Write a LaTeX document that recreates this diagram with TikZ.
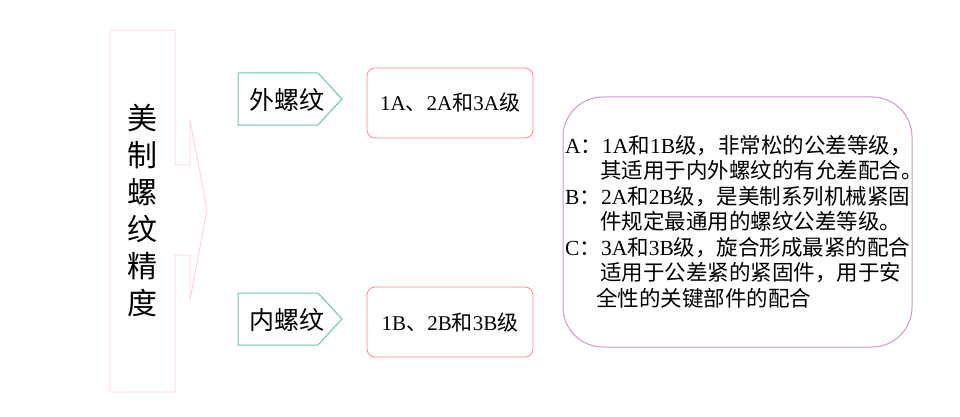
\documentclass[tikz,border=0pt]{standalone}
\usepackage{fontspec}
\setmainfont{Liberation Serif}
\newfontfamily\cjk{Noto Sans CJK SC}
\newcommand{\zh}[1]{{\cjk #1}}
\begin{document}
\begin{tikzpicture}[x=1pt,y=-1pt,
  pinkl/.style={draw=pink!70!red!40, line width=0.8pt},
  tealbox/.style={draw=teal!70!green!60, line width=1pt, fill=white},
  rbox/.style={draw=red!30!pink, line width=0.8pt, rounded corners=8pt},
  bigbox/.style={draw=violet!40, line width=1pt, rounded corners=40pt},
  txt/.style={font=\fontsize{21.5}{21.5}\selectfont, anchor=base west, inner sep=0}]
\useasboundingbox (0,0) rectangle (960,417);
\draw[pinkl] (110,30)--(175,30)--(175,165)--(190,165)--(190,120)--(207,210)--(190,300)--(190,255)--(175,255)--(175,392)--(110,392)--cycle;
\node[align=center, font=\cjk\fontsize{30}{37}\selectfont] (title) at (142,211) {美\\制\\螺\\纹\\精\\度};
\draw[tealbox] (238,73)--(318,73)--(342,99)--(318,125)--(238,125)--cycle;
\node[font=\cjk\fontsize{25}{25}\selectfont] (ext) at (287,100) {外螺纹};
\draw[tealbox] (238,293)--(318,293)--(342,319)--(318,345)--(238,345)--cycle;
\node[font=\cjk\fontsize{25}{25}\selectfont] (int) at (287,320) {内螺纹};
\draw[rbox] (367,68) rectangle (533,138);
\node[font=\fontsize{21}{21}\selectfont] (ga) at (450,103) {1A\zh{、}2A\zh{和}3A\zh{级}};
\draw[rbox] (367,287) rectangle (533,357);
\node[font=\fontsize{21}{21}\selectfont] (gb) at (450,323) {1B\zh{、}2B\zh{和}3B\zh{级}};
\draw[bigbox] (563,97) rectangle (912,347);
\node[txt] (l1) at (565,153) {A\zh{：}1A\zh{和}1B\zh{级，非常松的公差等级，}};
\node[txt] (l2) at (600,178.5) {\zh{其适用于内外螺纹的有允差配合。}};
\node[txt] (l3) at (565,204) {B\zh{：}2A\zh{和}2B\zh{级，是美制系列机械紧固}};
\node[txt] (l4) at (600,229.5) {\zh{件规定最通用的螺纹公差等级。}};
\node[txt] (l5) at (565,255) {C\zh{：}3A\zh{和}3B\zh{级，旋合形成最紧的配合}};
\node[txt] (l6) at (600,280.5) {\zh{适用于公差紧的紧固件，用于安}};
\node[txt] (l7) at (596,306) {\zh{全性的关键部件的配合}};
\end{tikzpicture}
\end{document}
